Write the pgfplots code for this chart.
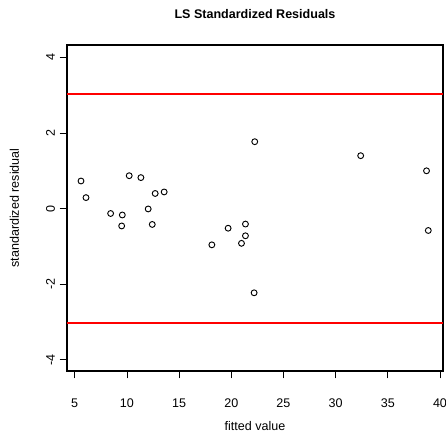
\documentclass[border=0pt]{standalone}
\usepackage{pgfplots}
\pgfplotsset{compat=1.18}
\usepackage{fontspec}
\setmainfont{Liberation Sans}

\begin{document}
\begin{tikzpicture}
% whole picture: 446 x 433 px, 1px = 0.75pt
\useasboundingbox (-50.25pt,-46.5pt) rectangle (284.25pt,278.25pt);
\begin{axis}[
    at={(0,0)}, anchor=south west,
    scale only axis,
    width=282pt, height=244.5pt,
    xmin=4.26, xmax=40.29,
    ymin=-4.30, ymax=4.33,
    xtick={5,10,15,20,25,30,35,40},
    ytick={-4,-2,0,2,4},
    xtick pos=bottom, ytick pos=left,
    tick align=outside,
    major tick length=5.5pt,
    tick style={black, line width=0.6pt},
    axis line style={line width=0.8pt},
    /pgf/number format/assume math mode=true,
    ticklabel style={font=\fontsize{9.4}{10}\selectfont},
    xticklabel style={anchor=center, yshift=-18.75pt},
    yticklabel style={rotate=90, anchor=south},
    title={\textbf{LS Standardized Residuals}},
    title style={font=\fontsize{9.4}{10}\selectfont, at={(0.5,1)}, anchor=center, yshift=17.1pt},
    xlabel={fitted value},
    xlabel style={font=\fontsize{9.4}{10}\selectfont, at={(0.5,0)}, anchor=center, yshift=-41.25pt},
]
\addplot[red, line width=1.1pt] coordinates {(4.26,3.03) (40.29,3.03)};
\addplot[red, line width=1.1pt] coordinates {(4.26,-3.03) (40.29,-3.03)};
\addplot[only marks, mark=o, mark size=2.2pt, mark options={line width=0.7pt, black}] coordinates {
(5.60,0.73) (6.08,0.29) (8.44,-0.13) (9.56,-0.17) (9.50,-0.46)
(10.22,0.87) (11.34,0.82) (12.04,-0.01) (12.43,-0.42) (12.71,0.40)
(13.57,0.44) (18.14,-0.96) (19.70,-0.52) (21.36,-0.41) (21.36,-0.72)
(20.98,-0.92) (22.19,-2.23) (22.25,1.77) (32.40,1.40) (38.71,1.00)
(38.88,-0.58)
};
\end{axis}
% y axis label, beside the axis box
\node[rotate=90, font=\fontsize{9.4}{10}\selectfont] at (-39.4pt,122.25pt) {standardized residual};
\end{tikzpicture}
\end{document}
